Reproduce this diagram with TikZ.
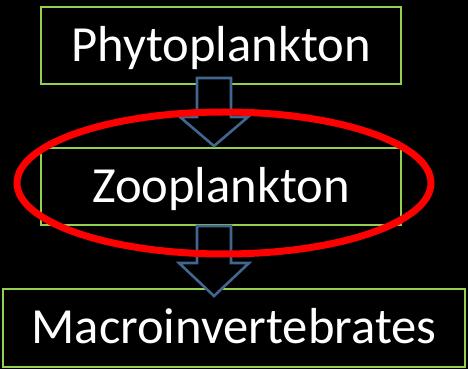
\documentclass[tikz,border=0pt]{standalone}
\usepackage{fontspec}
\setmainfont{Carlito}
\usetikzlibrary{calc,shapes.geometric}
\definecolor{boxgreen}{HTML}{92D050}
\definecolor{arrblue}{HTML}{41668F}
\definecolor{ringred}{HTML}{FF0000}
\begin{document}
\begin{tikzpicture}[x=1pt,y=1pt,
  box/.style={draw=boxgreen,line width=2pt,fill=black,text=white,
    font=\fontsize{50.6}{60}\selectfont,text height=32pt,text depth=0pt,
    inner sep=0pt,minimum height=77pt},
  arr/.style={draw=arrblue,line width=2.6pt,fill=black,line join=miter},
  ring/.style={draw=ringred,line width=7pt}]
\fill[black] (0,0) rectangle (468,369);
\useasboundingbox (0,0) rectangle (468,369);
\node[box,minimum width=360pt] (p) at (221,323.5) {Phytoplankton};
\node[box,minimum width=360pt] (z) at (221,182.5) {Zooplankton};
\node[box,minimum width=462pt,minimum height=78pt] (m) at (234,41) {Macroinvertebrates};
\draw[arr] ($(p.south)+(-24,7)$) -- ++(34,0) -- ++(0,-39) -- ++(17,0)
  -- ++(-34,-29) -- ++(-34,29) -- ++(17,0) -- cycle;
\draw[arr] ($(z.south)+(-24,0)$) -- ++(34,0) -- ++(0,-37) -- ++(18,0)
  -- ++(-35,-33) -- ++(-35,33) -- ++(18,0) -- cycle;
\node[ring,ellipse,minimum width=414pt,minimum height=142pt,inner sep=0pt] (r) at (224,186) {};
\end{tikzpicture}
\end{document}
